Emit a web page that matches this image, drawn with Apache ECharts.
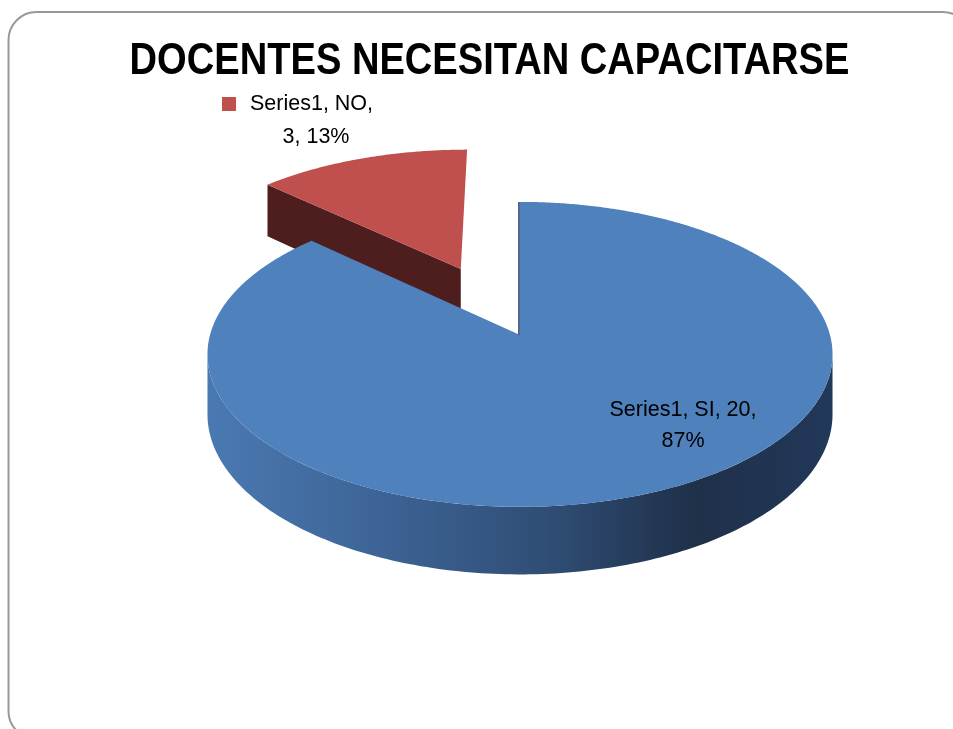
<!DOCTYPE html>
<html>
<head>
<meta charset="utf-8">
<script src="https://cdn.jsdelivr.net/npm/echarts@6/dist/echarts.min.js"></script>
<style>
html,body{margin:0;padding:0;background:#fff;}
#chart{width:953px;height:729px;}
</style>
</head>
<body>
<div id="chart"></div>
<script>
// ---- data ----
const chartTitle = 'DOCENTES NECESITAN CAPACITARSE';
const seriesName = 'Series1';
const categories = ['SI', 'NO'];
const values = [20, 3];
const sliceColors = ['#4f81bd', '#c0504d'];
const explodedCategory = 'NO';

// ---- rendering helpers ----
const total = values.reduce((a, b) => a + b, 0);
const percents = values.map(v => Math.round(v / total * 100));

const CX = 520, CY = 335, RX = 310, RY = 150, PERSP = 0.127, DEPTH = 59, EXPLODE = 0.508;
function proj(u, v, z) {
  const s = 1 / (1 - PERSP * v);
  return [CX + RX * u * s, CY + (RY * v + z) * s];
}
const rad = d => d * Math.PI / 180;

function renderItem(params, api) {
  const idx = params.dataIndex;
  const val = api.value(0);
  let startDeg = -90;
  for (let i = 0; i < idx; i++) startDeg += values[i] / total * 360;
  const endDeg = startDeg + val / total * 360;
  const midDeg = (startDeg + endDeg) / 2;
  let ou = 0, ov = 0;
  if (categories[idx] === explodedCategory) {
    ou = Math.cos(rad(midDeg)) * EXPLODE;
    ov = Math.sin(rad(midDeg)) * EXPLODE;
  }
  const P = (deg, r, z) => proj(ou + r * Math.cos(rad(deg)), ov + r * Math.sin(rad(deg)), z);
  const zBase = idx === 0 ? 10 : 0;
  const children = [];
  const dark = idx === 0 ? '#233a5c' : '#4e1e1e';

  // radial faces (visible if outward normal faces the viewer)
  const faces = [[startDeg, startDeg - 90], [endDeg, endDeg + 90]];
  faces.forEach(([deg, nDeg]) => {
    if (Math.sin(rad(nDeg)) > 0.01) {
      children.push({
        type: 'polygon', z2: zBase + 1,
        shape: { points: [P(0, 0, 0), P(deg, 1, 0), P(deg, 1, DEPTH), P(0, 0, DEPTH)] },
        style: { fill: dark }
      });
    }
  });

  // outer side (front part only)
  const sil = Math.asin(PERSP) * 180 / Math.PI;
  const a0 = Math.max(startDeg, sil), a1 = Math.min(endDeg, 180 - sil);
  if (a1 > a0) {
    const top = [], bot = [];
    for (let d = a0; d <= a1 + 1e-6; d += 1) { top.push(P(d, 1, 0)); bot.push(P(d, 1, DEPTH)); }
    top.push(P(a1, 1, 0)); bot.push(P(a1, 1, DEPTH));
    const pts = top.concat(bot.reverse());
    children.push({
      type: 'polygon', z2: zBase + 2,
      shape: { points: pts },
      style: {
        fill: idx === 0 ? {
          type: 'linear', x: 0, y: 0, x2: 1, y2: 0,
          colorStops: [
            { offset: 0, color: '#4a79b2' },
            { offset: 0.3, color: '#3c6293' },
            { offset: 0.55, color: '#2f4d74' },
            { offset: 0.78, color: '#1f3049' },
            { offset: 1, color: '#22385a' }
          ]
        } : dark
      }
    });
  }

  // top face
  const topPts = [P(0, 0, 0)];
  for (let d = startDeg; d <= endDeg + 1e-6; d += 0.5) topPts.push(P(d, 1, 0));
  topPts.push(P(endDeg, 1, 0));
  children.push({
    type: 'polygon', z2: zBase + 3,
    shape: { points: topPts },
    style: { fill: sliceColors[idx] }
  });
  if (idx === 0) {
    const a = P(startDeg, 1, 0), b = P(0, 0, 0);
    children.push({
      type: 'line', z2: zBase + 4,
      shape: { x1: a[0] - 1, y1: a[1], x2: b[0] - 1, y2: b[1] },
      style: { stroke: '#2a4268', lineWidth: 1.6 }
    });
  }
  return { type: 'group', children: children };
}

const labelFont = 'Liberation Sans, Arial, sans-serif';
const chart = echarts.init(document.getElementById('chart'), null, { renderer: 'canvas' });
chart.setOption({
  animation: false,
  backgroundColor: '#ffffff',
  graphic: [
    {
      type: 'rect', z: -1,
      shape: { x: 8.5, y: 12, width: 962, height: 727, r: 28 },
      style: { fill: 'none', stroke: '#999999', lineWidth: 2 }
    },
    {
      type: 'text', x: 489.5, y: 62, scaleX: 0.866, originX: 0, originY: 0,
      style: { text: chartTitle, font: 'bold 44px Liberation Sans, Arial, sans-serif', fill: '#000', textAlign: 'center', textVerticalAlign: 'middle' }
    },
    {
      type: 'rect',
      shape: { x: 222, y: 97, width: 14, height: 14 },
      style: { fill: sliceColors[1] }
    },
    {
      type: 'text', x: 250, y: 104,
      style: { text: seriesName + ', ' + categories[1] + ',', font: '21.5px ' + labelFont, fill: '#000', textAlign: 'left', textVerticalAlign: 'middle' }
    },
    {
      type: 'text', x: 316, y: 137,
      style: { text: values[1] + ', ' + percents[1] + '%', font: '21.5px ' + labelFont, fill: '#000', textAlign: 'center', textVerticalAlign: 'middle' }
    },
    {
      type: 'text', x: 683, y: 410, z: 10,
      style: { text: seriesName + ', ' + categories[0] + ', ' + values[0] + ',', font: '21.5px ' + labelFont, fill: '#000', textAlign: 'center', textVerticalAlign: 'middle' }
    },
    {
      type: 'text', x: 683, y: 441, z: 10,
      style: { text: percents[0] + '%', font: '21.5px ' + labelFont, fill: '#000', textAlign: 'center', textVerticalAlign: 'middle' }
    }
  ],
  series: [{
    type: 'custom',
    name: seriesName,
    coordinateSystem: 'none',
    renderItem: renderItem,
    data: values.map((v, i) => ({ name: categories[i], value: [v, i] }))
  }]
});
</script>
</body>
</html>
